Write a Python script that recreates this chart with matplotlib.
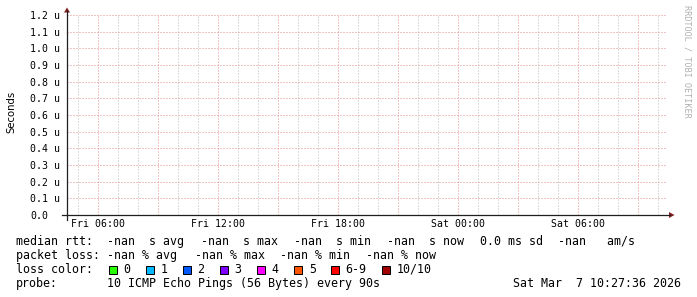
#plot.py  - smokeping style latency graph (no data received)

import numpy as np
import matplotlib
matplotlib.use("Agg")
import matplotlib.pyplot as plt
from matplotlib.lines import Line2D
from matplotlib.patches import Rectangle, Polygon

W, H = 697, 297
MONO = "DejaVu Sans Mono"

# time axis in hours since Fri 00:00
t_start, t_end = 4 + 27.6 / 60, 34 + 27.6 / 60
times = np.arange(t_start, t_end, 0.025)
median_rtt = np.full(times.shape, np.nan)   # no samples -> -nan

y_ticks = [0.0, 0.1, 0.2, 0.3, 0.4, 0.5, 0.6, 0.7, 0.8, 0.9, 1.0, 1.1, 1.2]
x_label_hours = [6, 12, 18, 24, 30]
x_labels = ["Fri 06:00", "Fri 12:00", "Fri 18:00", "Sat 00:00", "Sat 06:00"]

loss_labels = ["0", "1", "2", "3", "4", "5", "6-9", "10/10"]
loss_colors = ["#26ff00", "#00b8ff", "#0059ff", "#7e00ff", "#ff00ff",
               "#ff5500", "#ff0000", "#a00000"]

rtt_line = ["median rtt:", "-nan  s avg", "-nan  s max", "-nan  s min",
            "-nan  s now", "0.0 ms sd", "-nan   am/s"]
loss_line = ["packet loss:", "-nan % avg", "-nan % max", "-nan % min", "-nan % now"]
probe_text = "10 ICMP Echo Pings (56 Bytes) every 90s"
stamp = "Sat Mar  7 10:27:36 2026"


def px(x, y):
    # pixel (from top-left) -> figure fraction
    return x / W, 1 - y / H


fig = plt.figure(figsize=(W / 100, H / 100), dpi=100, facecolor="white")
ax = fig.add_axes([67 / W, (H - 215) / H, 600 / W, 200 / H])
ax.plot(times, median_rtt, color="#00aa00")
ax.set_xlim(t_start, t_end)
ax.set_ylim(0, 1.2)

ax.set_xticks(np.arange(6, 34, 3))
ax.set_xticks(np.arange(5, 35, 1), minor=True)
ax.set_xticklabels([x_labels[x_label_hours.index(h)] if h in x_label_hours else ""
                    for h in range(6, 34, 3)], fontfamily=MONO, fontsize=7.1)
ax.set_yticks(y_ticks)
ax.set_yticklabels(["0.0" if v == 0 else "%.1f u" % v for v in y_ticks],
                   fontfamily=MONO, fontsize=7.1)
plt.setp(ax.get_yticklabels(), ha="left")
ax.tick_params(axis="y", length=0, pad=26.6)
ax.tick_params(axis="x", which="both", length=0, pad=3.2)

dots = (0, (1, 2))
ax.grid(which="minor", axis="x", color="#b8b8b8", ls=dots, lw=0.72)
ax.grid(which="major", axis="x", color="#e48a8a", ls=dots, lw=0.72)
ax.grid(which="major", axis="y", color="#e48a8a", ls=dots, lw=0.72)
for s in ax.spines.values():
    s.set_visible(False)

# axes with arrows like rrdtool
fig.add_artist(Line2D(*zip(px(62, 215), px(670, 215)), color="#1f1f1f", lw=0.9))
fig.add_artist(Line2D(*zip(px(67, 219.5), px(67, 11)), color="#1f1f1f", lw=0.9))
fig.add_artist(Polygon([px(669, 212), px(674.5, 215), px(669, 218)], closed=True,
                       color="#801f1f", lw=0))
fig.add_artist(Polygon([px(64, 12.5), px(67, 7.5), px(70, 12.5)], closed=True,
                       color="#801f1f", lw=0))

fig.text(*px(11, 112), "Seconds", rotation=90, ha="center", va="center",
         fontsize=7.3, color="black")
fig.text(*px(687, 5), "RRDTOOL / TOBI OETIKER", rotation=270, ha="center", va="top",
         fontfamily=MONO, fontsize=6.1, color="#b0b0b0")

# legend block
fs = 8.4
for x, s in zip([16, 107, 201, 294, 387, 480, 558], rtt_line):
    fig.text(*px(x, 245), s, fontfamily=MONO, fontsize=fs, va="baseline")
for x, s in zip([16, 107, 195, 280, 366], loss_line):
    fig.text(*px(x, 259), s, fontfamily=MONO, fontsize=fs, va="baseline")

fig.text(*px(16, 273), "loss color:", fontfamily=MONO, fontsize=fs, va="baseline")
box_x = [108.7, 145.7, 182.5, 219.5, 257, 294.3, 331, 381.7]
for bx, lab, col in zip(box_x, loss_labels, loss_colors):
    x0, y0 = px(bx, 274)
    fig.add_artist(Rectangle((x0, y0), 8 / W, 8 / H, facecolor=col,
                             edgecolor="black", lw=0.72))
    fig.text(*px(bx + 14.5, 273), lab, fontfamily=MONO, fontsize=fs, va="baseline")

fig.text(*px(16, 287), "probe:", fontfamily=MONO, fontsize=fs, va="baseline")
fig.text(*px(107, 287), probe_text, fontfamily=MONO, fontsize=fs, va="baseline")
fig.text(*px(513, 287), stamp, fontfamily=MONO, fontsize=fs, va="baseline")

fig.savefig("out.png", dpi=100, facecolor="white")
